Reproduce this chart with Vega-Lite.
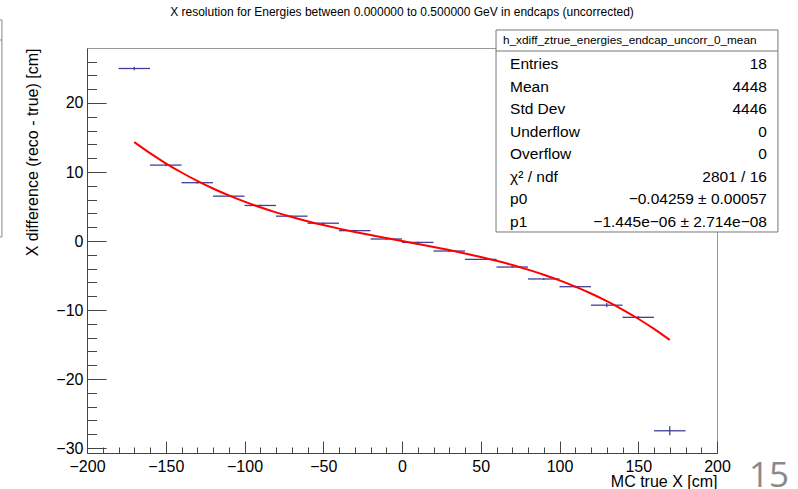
{
  "$schema": "https://vega.github.io/schema/vega-lite/v6.json",
  "width": 630,
  "height": 405,
  "autosize": {"type": "none"},
  "padding": {"left": 87, "top": 48, "right": 81, "bottom": 36},
  "background": "white",
  "config": {
    "view": {"stroke": "#999999", "strokeWidth": 1},
    "font": "Liberation Sans",
    "axis": {"labelOverlap": false, "labelFlush": false, "grid": false, "labelFontSize": 16, "labelFont": "Liberation Sans", "labelColor": "#000000",
      "domainColor": "#444444", "tickColor": "#444444", "titleFontSize": 16, "titleFontWeight": "normal", "titleFont": "Liberation Sans", "titleColor": "#000000", "titleAnchor": "end"},
    "axisX": {"tickSize": -12, "labelPadding": 17, "titlePadding": -1},
    "axisY": {"tickSize": -19, "labelPadding": 23, "titlePadding": 15}
  },
  "title": {"text": "X resolution for Energies between 0.000000 to 0.500000 GeV in endcaps (uncorrected)", "fontSize": 12, "fontWeight": "normal", "font": "Liberation Sans", "color": "#000000", "anchor": "middle", "frame": "group", "offset": 0},
  "datasets": {
    "hist": [
      {"x": -170, "xlo": -180, "xhi": -160, "y": 25.0, "ylo": 24.75, "yhi": 25.25},
      {"x": -150, "xlo": -160, "xhi": -140, "y": 11.0, "ylo": 10.85, "yhi": 11.15},
      {"x": -130, "xlo": -140, "xhi": -120, "y": 8.45, "ylo": 8.33, "yhi": 8.57},
      {"x": -110, "xlo": -120, "xhi": -100, "y": 6.5, "ylo": 6.4, "yhi": 6.6},
      {"x": -90, "xlo": -100, "xhi": -80, "y": 5.15, "ylo": 5.05, "yhi": 5.25},
      {"x": -70, "xlo": -80, "xhi": -60, "y": 3.6, "ylo": 3.5, "yhi": 3.7},
      {"x": -50, "xlo": -60, "xhi": -40, "y": 2.58, "ylo": 2.48, "yhi": 2.68},
      {"x": -30, "xlo": -40, "xhi": -20, "y": 1.5, "ylo": 1.4, "yhi": 1.6},
      {"x": -10, "xlo": -20, "xhi": 0, "y": 0.29, "ylo": 0.19, "yhi": 0.39},
      {"x": 10, "xlo": 0, "xhi": 20, "y": -0.2, "ylo": -0.3, "yhi": -0.1},
      {"x": 30, "xlo": 20, "xhi": 40, "y": -1.45, "ylo": -1.55, "yhi": -1.35},
      {"x": 50, "xlo": 40, "xhi": 60, "y": -2.66, "ylo": -2.76, "yhi": -2.56},
      {"x": 70, "xlo": 60, "xhi": 80, "y": -3.77, "ylo": -3.89, "yhi": -3.65},
      {"x": 90, "xlo": 80, "xhi": 100, "y": -5.5, "ylo": -5.65, "yhi": -5.35},
      {"x": 110, "xlo": 100, "xhi": 120, "y": -6.62, "ylo": -6.77, "yhi": -6.47},
      {"x": 130, "xlo": 120, "xhi": 140, "y": -9.3, "ylo": -9.6, "yhi": -9.0},
      {"x": 150, "xlo": 140, "xhi": 160, "y": -11.06, "ylo": -11.26, "yhi": -10.86},
      {"x": 170, "xlo": 160, "xhi": 180, "y": -27.5, "ylo": -28.15, "yhi": -26.85}
    ],
    "fit": [
      {"x": -170, "f": 14.34}, {"x": -160, "f": 12.733}, {"x": -150, "f": 11.265}, {"x": -140, "f": 9.928},
      {"x": -130, "f": 8.711}, {"x": -120, "f": 7.608}, {"x": -110, "f": 6.608}, {"x": -100, "f": 5.704},
      {"x": -90, "f": 4.887}, {"x": -80, "f": 4.147}, {"x": -70, "f": 3.477}, {"x": -60, "f": 2.868},
      {"x": -50, "f": 2.31}, {"x": -40, "f": 1.796}, {"x": -30, "f": 1.317}, {"x": -20, "f": 0.863},
      {"x": -10, "f": 0.427}, {"x": 0, "f": 0},
      {"x": 10, "f": -0.427}, {"x": 20, "f": -0.863}, {"x": 30, "f": -1.317}, {"x": 40, "f": -1.796},
      {"x": 50, "f": -2.31}, {"x": 60, "f": -2.868}, {"x": 70, "f": -3.477}, {"x": 80, "f": -4.147},
      {"x": 90, "f": -4.887}, {"x": 100, "f": -5.704}, {"x": 110, "f": -6.608}, {"x": 120, "f": -7.608},
      {"x": 130, "f": -8.711}, {"x": 140, "f": -9.928}, {"x": 150, "f": -11.265}, {"x": 160, "f": -12.733},
      {"x": 170, "f": -14.34}
    ],
    "stats": [
      {"row": 1, "label": "Entries", "value": "18"},
      {"row": 2, "label": "Mean", "value": "4448"},
      {"row": 3, "label": "Std Dev", "value": "4446"},
      {"row": 4, "label": "Underflow", "value": "0"},
      {"row": 5, "label": "Overflow", "value": "0"},
      {"row": 6, "label": "χ² / ndf", "value": "2801 / 16"},
      {"row": 7, "label": "p0", "value": "−0.04259 ± 0.00057"},
      {"row": 8, "label": "p1", "value": "−1.445e−06 ± 2.714e−08"}
    ]
  },
  "layer": [
    {
      "layer": [
        {
          "data": {"name": "hist"},
          "mark": {"type": "rule", "color": "#40409a", "strokeWidth": 1.3},
          "encoding": {
            "x": {"field": "xlo", "type": "quantitative", "scale": {"domain": [-200, 200], "nice": false, "zero": false},
              "axis": {"values": [-200,-190,-180,-170,-160,-150,-140,-130,-120,-110,-100,-90,-80,-70,-60,-50,-40,-30,-20,-10,0,10,20,30,40,50,60,70,80,90,100,110,120,130,140,150,160,170,180,190,200], "labelExpr": "datum.value % 50 === 0 ? datum.label : ''", "encoding": {"ticks": {"y2": {"condition": {"test": "datum.value % 50 === 0", "value": -12}, "value": -6}}}, "title": "MC true X [cm]"}},
            "x2": {"field": "xhi"},
            "y": {"field": "y", "type": "quantitative", "scale": {"domain": [-30.72, 27.97], "nice": false, "zero": false},
              "axis": {"values": [-30,-28,-26,-24,-22,-20,-18,-16,-14,-12,-10,-8,-6,-4,-2,0,2,4,6,8,10,12,14,16,18,20,22,24,26], "labelExpr": "datum.value % 10 === 0 ? datum.label : ''", "encoding": {"ticks": {"x2": {"condition": {"test": "datum.value % 10 === 0", "value": 19}, "value": 9.5}}}, "title": "X difference (reco - true) [cm]"}}
          }
        },
        {
          "data": {"name": "hist"},
          "mark": {"type": "rule", "color": "#40409a", "strokeWidth": 1.3},
          "encoding": {
            "x": {"field": "x", "type": "quantitative",
              "axis": {"values": [-200,-190,-180,-170,-160,-150,-140,-130,-120,-110,-100,-90,-80,-70,-60,-50,-40,-30,-20,-10,0,10,20,30,40,50,60,70,80,90,100,110,120,130,140,150,160,170,180,190,200], "labelExpr": "datum.value % 50 === 0 ? datum.label : ''", "encoding": {"ticks": {"y2": {"condition": {"test": "datum.value % 50 === 0", "value": -12}, "value": -6}}}, "title": "MC true X [cm]"}},
            "y": {"field": "ylo", "type": "quantitative",
              "axis": {"values": [-30,-28,-26,-24,-22,-20,-18,-16,-14,-12,-10,-8,-6,-4,-2,0,2,4,6,8,10,12,14,16,18,20,22,24,26], "labelExpr": "datum.value % 10 === 0 ? datum.label : ''", "encoding": {"ticks": {"x2": {"condition": {"test": "datum.value % 10 === 0", "value": 19}, "value": 9.5}}}, "title": "X difference (reco - true) [cm]"}},
            "y2": {"field": "yhi"}
          }
        },
        {
          "data": {"name": "fit"},
          "mark": {"type": "line", "color": "#ff0000", "strokeWidth": 2, "interpolate": "monotone"},
          "encoding": {
            "x": {"field": "x", "type": "quantitative",
              "axis": {"values": [-200,-190,-180,-170,-160,-150,-140,-130,-120,-110,-100,-90,-80,-70,-60,-50,-40,-30,-20,-10,0,10,20,30,40,50,60,70,80,90,100,110,120,130,140,150,160,170,180,190,200], "labelExpr": "datum.value % 50 === 0 ? datum.label : ''", "encoding": {"ticks": {"y2": {"condition": {"test": "datum.value % 50 === 0", "value": -12}, "value": -6}}}, "title": "MC true X [cm]"}},
            "y": {"field": "f", "type": "quantitative",
              "axis": {"values": [-30,-28,-26,-24,-22,-20,-18,-16,-14,-12,-10,-8,-6,-4,-2,0,2,4,6,8,10,12,14,16,18,20,22,24,26], "labelExpr": "datum.value % 10 === 0 ? datum.label : ''", "encoding": {"ticks": {"x2": {"condition": {"test": "datum.value % 10 === 0", "value": 19}, "value": 9.5}}}, "title": "X difference (reco - true) [cm]"}}
          }
        },
        {
          "data": {"values": [{}]},
          "mark": {"type": "rect", "fill": "white", "stroke": "#888888", "strokeWidth": 1},
          "encoding": {
            "x": {"datum": -275, "type": "quantitative",
              "axis": {"values": [-200,-190,-180,-170,-160,-150,-140,-130,-120,-110,-100,-90,-80,-70,-60,-50,-40,-30,-20,-10,0,10,20,30,40,50,60,70,80,90,100,110,120,130,140,150,160,170,180,190,200], "labelExpr": "datum.value % 50 === 0 ? datum.label : ''", "encoding": {"ticks": {"y2": {"condition": {"test": "datum.value % 50 === 0", "value": -12}, "value": -6}}}, "title": "MC true X [cm]"}},
            "x2": {"datum": -254},
            "y": {"datum": 32.03, "type": "quantitative",
              "axis": {"values": [-30,-28,-26,-24,-22,-20,-18,-16,-14,-12,-10,-8,-6,-4,-2,0,2,4,6,8,10,12,14,16,18,20,22,24,26], "labelExpr": "datum.value % 10 === 0 ? datum.label : ''", "encoding": {"ticks": {"x2": {"condition": {"test": "datum.value % 10 === 0", "value": 19}, "value": 9.5}}}, "title": "X difference (reco - true) [cm]"}},
            "y2": {"datum": 0.58}
          }
        },
        {
          "data": {"values": [{}]},
          "mark": {"type": "rule", "stroke": "#888888", "strokeWidth": 1},
          "encoding": {
            "x": {"datum": -275, "type": "quantitative",
              "axis": {"values": [-200,-190,-180,-170,-160,-150,-140,-130,-120,-110,-100,-90,-80,-70,-60,-50,-40,-30,-20,-10,0,10,20,30,40,50,60,70,80,90,100,110,120,130,140,150,160,170,180,190,200], "labelExpr": "datum.value % 50 === 0 ? datum.label : ''", "encoding": {"ticks": {"y2": {"condition": {"test": "datum.value % 50 === 0", "value": -12}, "value": -6}}}, "title": "MC true X [cm]"}},
            "x2": {"datum": -254},
            "y": {"datum": 29.13, "type": "quantitative",
              "axis": {"values": [-30,-28,-26,-24,-22,-20,-18,-16,-14,-12,-10,-8,-6,-4,-2,0,2,4,6,8,10,12,14,16,18,20,22,24,26], "labelExpr": "datum.value % 10 === 0 ? datum.label : ''", "encoding": {"ticks": {"x2": {"condition": {"test": "datum.value % 10 === 0", "value": 19}, "value": 9.5}}}, "title": "X difference (reco - true) [cm]"}}
          }
        },
        {
          "data": {"values": [{"page": "15"}]},
          "mark": {"type": "text", "font": "Open Sans", "fontSize": 35, "color": "#8a8a8a", "align": "center", "baseline": "middle"},
          "encoding": {
            "x": {"datum": 233, "type": "quantitative",
              "axis": {"values": [-200,-190,-180,-170,-160,-150,-140,-130,-120,-110,-100,-90,-80,-70,-60,-50,-40,-30,-20,-10,0,10,20,30,40,50,60,70,80,90,100,110,120,130,140,150,160,170,180,190,200], "labelExpr": "datum.value % 50 === 0 ? datum.label : ''", "encoding": {"ticks": {"y2": {"condition": {"test": "datum.value % 50 === 0", "value": -12}, "value": -6}}}, "title": "MC true X [cm]"}},
            "y": {"datum": -34.0, "type": "quantitative",
              "axis": {"values": [-30,-28,-26,-24,-22,-20,-18,-16,-14,-12,-10,-8,-6,-4,-2,0,2,4,6,8,10,12,14,16,18,20,22,24,26], "labelExpr": "datum.value % 10 === 0 ? datum.label : ''", "encoding": {"ticks": {"x2": {"condition": {"test": "datum.value % 10 === 0", "value": 19}, "value": 9.5}}}, "title": "X difference (reco - true) [cm]"}},
            "text": {"field": "page"}
          }
        }
      ]
    },
    {
      "layer": [
        {
          "data": {"values": [{}]},
          "mark": {"type": "rect", "fill": "white", "stroke": "#777777", "strokeWidth": 1},
          "encoding": {
            "x": {"datum": 59.7, "type": "quantitative", "scale": {"domain": [-200, 200], "nice": false, "zero": false},
              "axis": {"values": [-200,-190,-180,-170,-160,-150,-140,-130,-120,-110,-100,-90,-80,-70,-60,-50,-40,-30,-20,-10,0,10,20,30,40,50,60,70,80,90,100,110,120,130,140,150,160,170,180,190,200], "labelExpr": "datum.value % 50 === 0 ? datum.label : ''", "encoding": {"ticks": {"y2": {"condition": {"test": "datum.value % 50 === 0", "value": -12}, "value": -6}}}, "title": "MC true X [cm]"}},
            "x2": {"datum": 238.7},
            "y": {"datum": -0.507, "type": "quantitative", "scale": {"domain": [0.291, 18.235], "reverse": true, "nice": false, "zero": false}, "axis": null},
            "y2": {"datum": 8.443}
          }
        },
        {
          "data": {"values": [{}]},
          "mark": {"type": "rule", "stroke": "#777777", "strokeWidth": 1},
          "encoding": {
            "x": {"datum": 59.7, "type": "quantitative",
              "axis": {"values": [-200,-190,-180,-170,-160,-150,-140,-130,-120,-110,-100,-90,-80,-70,-60,-50,-40,-30,-20,-10,0,10,20,30,40,50,60,70,80,90,100,110,120,130,140,150,160,170,180,190,200], "labelExpr": "datum.value % 50 === 0 ? datum.label : ''", "encoding": {"ticks": {"y2": {"condition": {"test": "datum.value % 50 === 0", "value": -12}, "value": -6}}}, "title": "MC true X [cm]"}},
            "x2": {"datum": 238.7},
            "y": {"datum": 0.424, "type": "quantitative", "axis": null}
          }
        },
        {
          "data": {"values": [{"name": "h_xdiff_ztrue_energies_endcap_uncorr_0_mean"}]},
          "mark": {"type": "text", "font": "Liberation Sans", "fontSize": 11.8, "color": "#000000", "align": "left", "baseline": "middle"},
          "encoding": {
            "x": {"datum": 64.1, "type": "quantitative",
              "axis": {"values": [-200,-190,-180,-170,-160,-150,-140,-130,-120,-110,-100,-90,-80,-70,-60,-50,-40,-30,-20,-10,0,10,20,30,40,50,60,70,80,90,100,110,120,130,140,150,160,170,180,190,200], "labelExpr": "datum.value % 50 === 0 ? datum.label : ''", "encoding": {"ticks": {"y2": {"condition": {"test": "datum.value % 50 === 0", "value": -12}, "value": -6}}}, "title": "MC true X [cm]"}},
            "y": {"datum": -0.063, "type": "quantitative", "axis": null},
            "text": {"field": "name"}
          }
        },
        {
          "data": {"name": "stats"},
          "mark": {"type": "text", "font": "Liberation Sans", "fontSize": 15.5, "color": "#000000", "align": "left", "baseline": "middle"},
          "encoding": {
            "x": {"datum": 68.6, "type": "quantitative",
              "axis": {"values": [-200,-190,-180,-170,-160,-150,-140,-130,-120,-110,-100,-90,-80,-70,-60,-50,-40,-30,-20,-10,0,10,20,30,40,50,60,70,80,90,100,110,120,130,140,150,160,170,180,190,200], "labelExpr": "datum.value % 50 === 0 ? datum.label : ''", "encoding": {"ticks": {"y2": {"condition": {"test": "datum.value % 50 === 0", "value": -12}, "value": -6}}}, "title": "MC true X [cm]"}},
            "y": {"field": "row", "type": "quantitative", "axis": null},
            "text": {"field": "label"}
          }
        },
        {
          "data": {"name": "stats"},
          "mark": {"type": "text", "font": "Liberation Sans", "fontSize": 15.5, "color": "#000000", "align": "right", "baseline": "middle"},
          "encoding": {
            "x": {"datum": 231.7, "type": "quantitative",
              "axis": {"values": [-200,-190,-180,-170,-160,-150,-140,-130,-120,-110,-100,-90,-80,-70,-60,-50,-40,-30,-20,-10,0,10,20,30,40,50,60,70,80,90,100,110,120,130,140,150,160,170,180,190,200], "labelExpr": "datum.value % 50 === 0 ? datum.label : ''", "encoding": {"ticks": {"y2": {"condition": {"test": "datum.value % 50 === 0", "value": -12}, "value": -6}}}, "title": "MC true X [cm]"}},
            "y": {"field": "row", "type": "quantitative", "axis": null},
            "text": {"field": "value"}
          }
        }
      ]
    }
  ],
  "resolve": {"scale": {"y": "independent"}}
}
